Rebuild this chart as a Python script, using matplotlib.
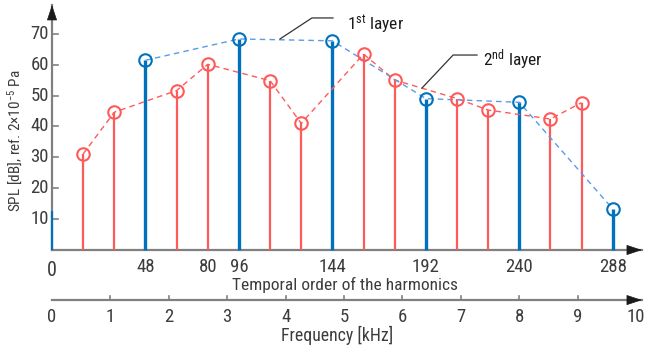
import matplotlib
matplotlib.use("Agg")
import matplotlib.pyplot as plt
from matplotlib import font_manager

# harmonic orders and SPL values
order_1st = [48, 96, 144, 192, 240, 288]
spl_1st = [61.4, 68.3, 67.7, 49.0, 47.8, 13.3]

order_2nd = [16, 32, 64, 80, 112, 128, 160, 176, 208, 224, 256, 272]
spl_2nd = [31.1, 44.6, 51.6, 60.1, 54.8, 41.0, 63.4, 55.0, 49.0, 45.3, 42.4, 47.7]

order_ticks = [0, 48, 80, 96, 144, 192, 240, 288]
spl_ticks = [10, 20, 30, 40, 50, 60, 70]
freq_ticks = [0, 1, 2, 3, 4, 5, 6, 7, 8, 9, 10]
ORDER_PER_KHZ = 30

BLUE = '#0072BD'
BLUE_DASH = '#5b9be6'
RED = '#ff5a5a'
AXIS = '#808080'
TXT = '#3c3c3c'

# pick a narrow sans font if one is installed
installed = {f.name for f in font_manager.fontManager.ttflist}
narrow = ['Arial Narrow', 'Liberation Sans Narrow', 'Roboto Condensed',
          'PT Sans Narrow', 'Archivo Narrow', 'Fira Sans Condensed',
          'IBM Plex Sans Condensed', 'Encode Sans Condensed', 'Liberation Sans']
FONT = next(n for n in narrow if n in installed)

plt.rcParams['font.family'] = [FONT, 'DejaVu Sans']
plt.rcParams['mathtext.fontset'] = 'custom'
plt.rcParams['mathtext.rm'] = FONT
plt.rcParams['mathtext.it'] = FONT

fig = plt.figure(figsize=(6.46, 3.49), dpi=100)
ax = fig.add_axes([0, 0, 1, 1])
ax.set_xlim(-26.71, 305.08)
ax.set_ylim(-32.04, 80.91)
ax.axis('off')

# axes lines
ax.plot([0, 0], [0, 79.3], color=AXIS, lw=1.6, zorder=1)
ax.plot([0, 303], [0, 0], color=AXIS, lw=1.6, zorder=1)
y_freq = -16.2
ax.plot([0, 303], [y_freq, y_freq], color=AXIS, lw=1.6, zorder=1)

arrow = dict(arrowstyle='-|>,head_length=1.0,head_width=0.33', color='#1a1a1a',
             lw=0.5, shrinkA=0, shrinkB=0, mutation_scale=10)
ax.annotate('', xy=(0, 79.3), xytext=(0, 74.8), arrowprops=arrow)
ax.annotate('', xy=(303, 0), xytext=(296, 0), arrowprops=arrow)
ax.annotate('', xy=(303, y_freq), xytext=(296, y_freq), arrowprops=arrow)

# y ticks
for v in spl_ticks:
    ax.plot([0, 3], [v, v], color=AXIS, lw=1.2, zorder=1)
    ax.text(-1.5, v, str(v), ha='right', va='center', fontsize=13.5, color=TXT)
ax.text(-18.7, 35.3, r'SPL [dB], ref. 2×10$^{-5}$ Pa', rotation=90,
        ha='center', va='center', fontsize=11, color=TXT)

# harmonic order labels
for t in order_ticks:
    if t == 0:
        ax.text(t, -6.5, '0', ha='center', va='center', fontsize=14.5, color=TXT)
    else:
        ax.text(t, -5.5, str(t), ha='center', va='center', fontsize=13.5, color=TXT)
ax.text(150.5, -11.3, 'Temporal order of the harmonics', ha='center', va='center',
        fontsize=12.5, color=TXT)

# frequency axis
for f in freq_ticks:
    x = f * ORDER_PER_KHZ
    if 0 < f < 10:
        ax.plot([x, x], [y_freq, y_freq + 1.3], color=AXIS, lw=1.2, zorder=1)
    ax.text(x, -21.7, str(f), ha='center', va='center', fontsize=13.5, color=TXT)
ax.text(146.4, -27.5, 'Frequency [kHz]', ha='center', va='center',
        fontsize=12.8, color=TXT)

# 2nd layer stems
ax.vlines(order_2nd, 0, spl_2nd, color=RED, lw=1.6, zorder=2)
ax.plot(order_2nd, spl_2nd, ls=(0, (4, 3)), color=RED, lw=1.0, zorder=3)
ax.plot(order_2nd, spl_2nd, 'o', ms=9, mfc='none', mec=RED, mew=1.5, zorder=4)

# 1st layer stems
ax.vlines(order_1st, 0, spl_1st, color=BLUE, lw=2.4, zorder=2)
ax.vlines([0], 0, [12.6], color=BLUE, lw=1.6, zorder=2)
ax.plot(order_1st, spl_1st, ls=(0, (4, 3)), color=BLUE_DASH, lw=1.0, zorder=3)
ax.plot(order_1st, spl_1st, 'o', ms=9, mfc='none', mec=BLUE, mew=1.5, zorder=4)

# leader annotations
ax.plot([117.1, 133.5, 144.3], [68.3, 75.1, 75.1], color='#333333', lw=0.9, zorder=5)
ax.text(151.5, 72.8, r'1$^{\rm st}$ layer', ha='left', va='center', fontsize=12.5, color='#1a1a1a')
ax.plot([190.0, 206.0, 218.3], [52.4, 63.1, 63.1], color='#333333', lw=0.9, zorder=5)
ax.text(221.4, 61.6, r'2$^{\rm nd}$ layer', ha='left', va='center', fontsize=12.5, color='#1a1a1a')

fig.savefig('out.png', dpi=100)
